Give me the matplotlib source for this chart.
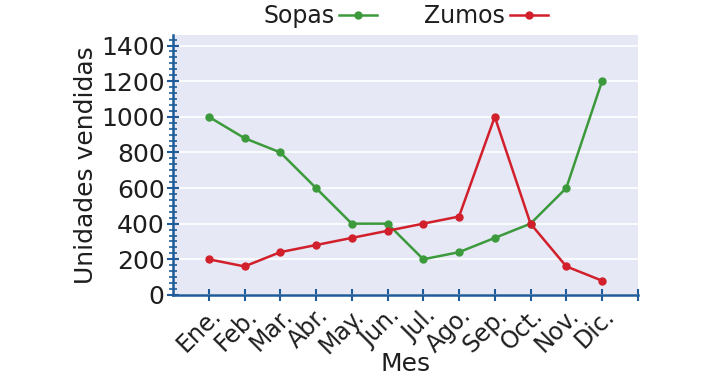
import numpy as np
import matplotlib.pyplot as plt
from matplotlib.ticker import AutoMinorLocator, MultipleLocator

months = ['Ene.', 'Feb.', 'Mar.', 'Abr.', 'May.', 'Jun.', 'Jul.', 'Ago.', 'Sep.', 'Oct.', 'Nov.', 'Dic.']
sopas = [1000, 880, 800, 600, 400, 400, 200, 240, 320, 400, 600, 1200]
zumos = [200, 160, 240, 280, 320, 360, 400, 440, 1000, 400, 160, 80]

plt.rcParams['font.family'] = ['DejaVu Sans']
axis_col = '#1f5c99'
text_col = '#1e1e1e'

fig = plt.figure(figsize=(7.15, 3.83), dpi=100)
ax = fig.add_axes([0.242, 0.230, 0.650, 0.679])
ax.set_facecolor('#e6e8f5')

x = np.arange(1, len(months) + 1)
ax.plot(x, sopas, color='#3c9a3c', lw=1.8, marker='o', ms=5, label='Sopas')
ax.plot(x, zumos, color='#d11f2b', lw=1.8, marker='o', ms=5, label='Zumos')

ax.set_xlim(0, 13)
ax.set_ylim(0, 1460)
ax.set_xticks(list(x) + [13])
ax.set_xticklabels(months + [''], rotation=45, ha='right', rotation_mode='anchor',
                   fontsize=17, color=text_col)
ax.yaxis.set_major_locator(MultipleLocator(200))
ax.yaxis.set_minor_locator(AutoMinorLocator(6))
ax.tick_params(axis='y', labelsize=18, labelcolor=text_col, pad=2)

ax.tick_params(which='major', direction='inout', length=8, width=1.5, color=axis_col)
ax.tick_params(which='minor', direction='inout', length=6, width=1.2, color=axis_col)
ax.tick_params(axis='x', pad=2)

for s in ['top', 'right']:
    ax.spines[s].set_visible(False)
for s in ['left', 'bottom']:
    ax.spines[s].set_color(axis_col)
    ax.spines[s].set_linewidth(1.8)

ax.grid(axis='y', color='white', lw=1.2)
ax.set_axisbelow(True)

ax.set_xlabel('Mes', fontsize=18, color=text_col, labelpad=-4)
ax.set_ylabel('Unidades vendidas', fontsize=18, color=text_col, labelpad=2)

ax.legend(loc='lower center', bbox_to_anchor=(0.5, 0.99), ncol=2, frameon=False,
          markerfirst=False, fontsize=17, handlelength=1.6, columnspacing=2.0,
          handletextpad=0.2, borderaxespad=0, labelcolor=text_col)

fig.savefig('out.png', dpi=100)
